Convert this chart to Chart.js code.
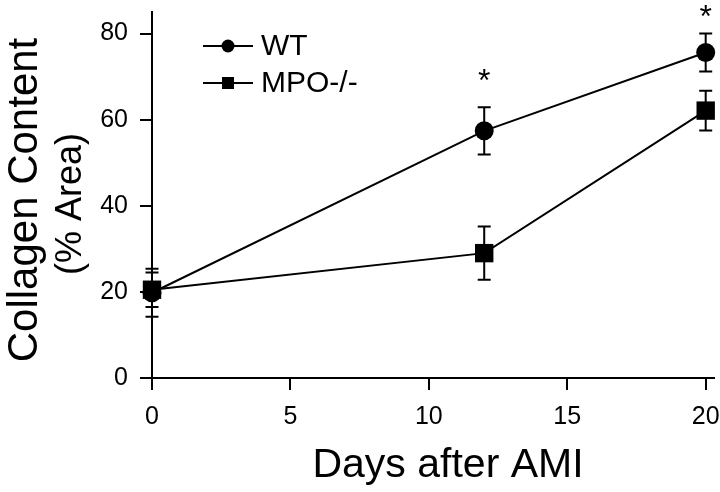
<!DOCTYPE html>
<html>
<head>
<meta charset="utf-8">
<script src="https://cdn.jsdelivr.net/npm/chart.js@4/dist/chart.umd.min.js"></script>
<style>
  html, body { margin: 0; padding: 0; background: #fff; }
  canvas { display: block; }
</style>
</head>
<body>
<canvas id="chart" width="720" height="492"></canvas>
<script>
// data
const days = [0, 12, 20];
const wtMean = [19.8, 57.4, 75.6];
const wtErr = [5.6, 5.5, 4.4];
const mpoMean = [20.5, 29.0, 62.1];
const mpoErr = [4.0, 6.2, 4.6];
const xTicks = [0, 5, 10, 15, 20];
const yTicks = [0, 20, 40, 60, 80];
// significance stars (day, height in % area)
const starDays = [12, 20];
const starY = [70.2, 85];

const FONT = '"Liberation Sans", Arial, Helvetica, sans-serif';

const toPoints = (xs, ys) => xs.map((x, i) => ({ x: x, y: ys[i] }));

// error bars drawn under the markers
const errorBars = {
  id: 'errorBars',
  beforeDatasetsDraw(chart) {
    const { ctx, scales: { x, y } } = chart;
    const sets = [[wtMean, wtErr], [mpoMean, mpoErr]];
    ctx.save();
    ctx.strokeStyle = '#000';
    ctx.lineWidth = 2;
    sets.forEach(([mean, err]) => {
      days.forEach((d, i) => {
        const px = x.getPixelForValue(d);
        const top = y.getPixelForValue(mean[i] + err[i]);
        const bot = y.getPixelForValue(mean[i] - err[i]);
        ctx.beginPath();
        ctx.moveTo(px, top); ctx.lineTo(px, bot);
        ctx.moveTo(px - 6.5, top); ctx.lineTo(px + 6.5, top);
        ctx.moveTo(px - 6.5, bot); ctx.lineTo(px + 6.5, bot);
        ctx.stroke();
      });
    });
    ctx.restore();
  }
};

// titles, stars and the little legend
const decorations = {
  id: 'decorations',
  afterDraw(chart) {
    const { ctx, scales: { x, y } } = chart;
    ctx.save();
    ctx.fillStyle = '#000';
    ctx.strokeStyle = '#000';

    // x title
    ctx.font = '41px ' + FONT;
    ctx.textAlign = 'center';
    ctx.textBaseline = 'alphabetic';
    ctx.fillText('Days after AMI', 448, 477);

    // y title
    ctx.save();
    ctx.translate(37, 200);
    ctx.rotate(-Math.PI / 2);
    ctx.font = '42px ' + FONT;
    ctx.fillText('Collagen Content', 0, 0);
    ctx.restore();

    ctx.save();
    ctx.translate(81, 204);
    ctx.rotate(-Math.PI / 2);
    ctx.font = '36px ' + FONT;
    ctx.fillText('(% Area)', 0, 0);
    ctx.restore();

    // stars
    ctx.font = '32px ' + FONT;
    ctx.textBaseline = 'middle';
    starDays.forEach((d, i) => {
      ctx.fillText('*', x.getPixelForValue(d), y.getPixelForValue(starY[i]) + 6);
    });

    // legend
    ctx.lineWidth = 2;
    ctx.textAlign = 'left';
    ctx.font = '30px ' + FONT;
    const rows = [['WT', 46, 'circle'], ['MPO-/-', 83, 'rect']];
    rows.forEach(([label, ly, shape]) => {
      ctx.beginPath();
      ctx.moveTo(203, ly); ctx.lineTo(253, ly);
      ctx.stroke();
      if (shape === 'circle') {
        ctx.beginPath();
        ctx.arc(228, ly, 6.5, 0, Math.PI * 2);
        ctx.fill();
      } else {
        ctx.fillRect(222, ly - 6, 12, 12);
      }
      ctx.fillText(label, 261, ly + 1);
    });
    ctx.restore();
  }
};

const axisLook = {
  grid: { display: true, drawOnChartArea: false, drawTicks: true, tickLength: 12, color: '#000', lineWidth: 2 },
  border: { display: true, color: '#000', width: 2 },
};

new Chart(document.getElementById('chart'), {
  type: 'line',
  data: {
    datasets: [
      {
        label: 'WT',
        data: toPoints(days, wtMean),
        borderColor: '#000',
        backgroundColor: '#000',
        borderWidth: 2,
        pointStyle: 'circle',
        pointRadius: 9.5,
        pointBorderWidth: 0,
        pointBackgroundColor: '#000',
        tension: 0,
        clip: false
      },
      {
        label: 'MPO-/-',
        data: toPoints(days, mpoMean),
        borderColor: '#000',
        backgroundColor: '#000',
        borderWidth: 2,
        pointStyle: 'rect',
        pointRadius: 13,
        pointBorderWidth: 0,
        pointBackgroundColor: '#000',
        tension: 0,
        clip: false
      }
    ]
  },
  options: {
    responsive: false,
    animation: false,
    layout: { autoPadding: false, padding: { top: 12, right: 6, left: 0, bottom: 0 } },
    plugins: {
      legend: { display: false },
      tooltip: { enabled: false }
    },
    scales: {
      x: {
        type: 'linear',
        min: 0,
        max: 20.3,
        afterFit: s => { s.height = 114; s.paddingLeft = 0; s.paddingRight = 0; },
        afterBuildTicks: s => { s.ticks = xTicks.map(v => ({ value: v })); },
        ticks: { color: '#000', font: { family: FONT, size: 25 }, padding: 12, maxRotation: 0 },
        ...axisLook
      },
      y: {
        type: 'linear',
        min: 0,
        max: 85,
        afterFit: s => { s.width = 152; s.paddingTop = 0; s.paddingBottom = 0; },
        afterBuildTicks: s => { s.ticks = yTicks.map(v => ({ value: v })); },
        ticks: { color: '#000', font: { family: FONT, size: 25 }, padding: 12 },
        ...axisLook
      }
    }
  },
  plugins: [errorBars, decorations]
});
</script>
</body>
</html>
